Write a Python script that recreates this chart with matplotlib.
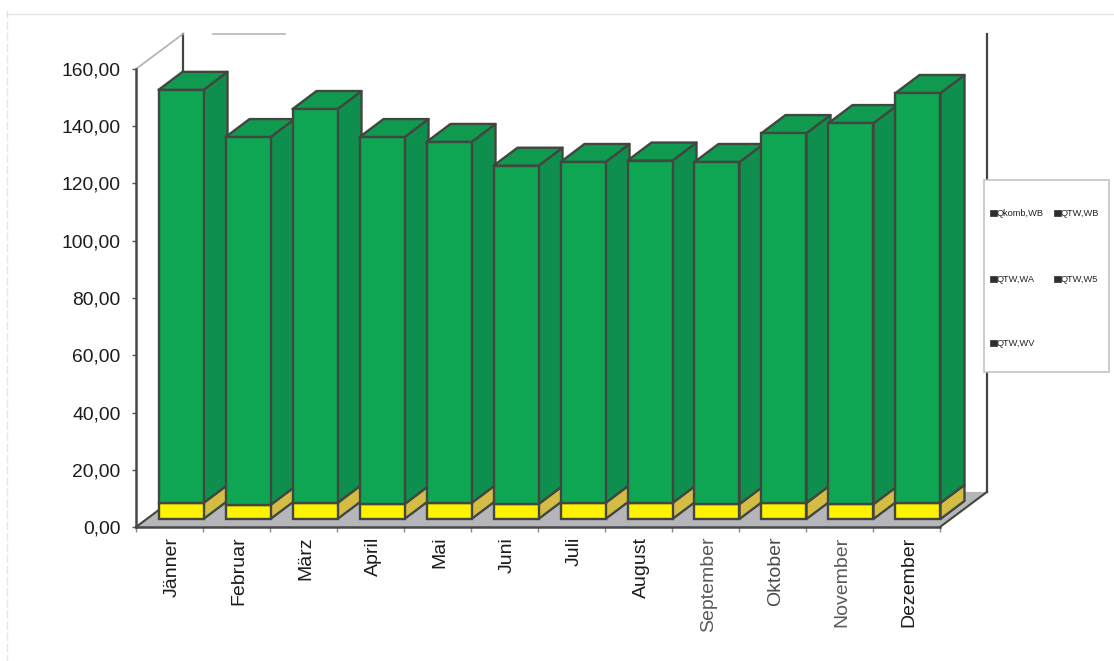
import matplotlib
matplotlib.use("Agg")
import matplotlib.pyplot as plt
from matplotlib.patches import Polygon, Rectangle

plt.rcParams['font.family'] = ['Liberation Sans', 'DejaVu Sans']

########################### DATA ##################################
months = ['Jänner', 'Februar', 'März', 'April', 'Mai', 'Juni', 'Juli',
          'August', 'September', 'Oktober', 'November', 'Dezember']
month_colors = ['#1c1c1c', '#1c1c1c', '#1c1c1c', '#1c1c1c', '#1c1c1c', '#1c1c1c', '#1c1c1c',
                '#1c1c1c', '#5a5a5a', '#4a4a4a', '#5a5a5a', '#1c1c1c']
qtw_wv = [5.6, 4.9, 5.6, 5.2, 5.6, 5.2, 5.6, 5.6, 5.2, 5.6, 5.2, 5.6]
totals = [149.9, 133.4, 143.2, 133.4, 131.7, 123.4, 124.7, 125.2, 124.7, 134.8, 138.3, 148.8]
y_ticks = [0, 20, 40, 60, 80, 100, 120, 140, 160]
legend_labels = ['Qkomb,WB', 'QTW,WB', 'QTW,WA', 'QTW,W5', 'QTW,WV']

########################### STYLE ##################################
W, H = 1114, 661
edge = '#41473f'
green_front, green_top, green_side = '#0ea553', '#0f9a50', '#0f8f4e'
yellow_front, yellow_side = '#fff200', '#d3bd45'

# Depth of the box and of a bar, in data units
depth_x, depth_y = 47 / 67, 35 / 2.856
bar_width = 45 / 67
bar_dx, bar_dy = 24 / 67, 18 / 2.856
inset_x, inset_y = 11.5 / 67, 8 / 2.856

fig = plt.figure(figsize=(W / 100, H / 100), dpi=100)

# Page decoration and legend are drawn in pixel coordinates
page = fig.add_axes([0, 0, 1, 1], zorder=0)
page.set_xlim(0, W)
page.set_ylim(H, 0)
page.axis('off')
page.plot([6, W], [14, 14], color='#e6e6e6', lw=1)
page.plot([7, 7], [10, H], color='#e6e6e6', lw=1, ls=(0, (6, 2)))
page.plot([213, 285], [34, 34], color='#b5b5b5', lw=1.2)

ax = fig.add_axes([136 / W, 1 - 527 / H, 804 / W, 458 / H], zorder=1)
ax.patch.set_alpha(0)
ax.set_xlim(0, 12)
ax.set_ylim(0, 160)


def face(pts, color, z, line=edge, lw=1.7):
    ax.add_patch(Polygon(pts, closed=True, facecolor=color, edgecolor=line,
                         linewidth=lw, joinstyle='round', clip_on=False, zorder=z))


########################### BOX ##################################
face([(0, 0), (12, 0), (12 + depth_x, depth_y), (depth_x, depth_y)], '#b6b6ba', 1, line='none', lw=0)
ax.plot([0, depth_x], [0, depth_y], color=edge, lw=1.5, clip_on=False, zorder=2)
ax.plot([12, 12 + depth_x], [0, depth_y], color=edge, lw=1.5, clip_on=False, zorder=2)
ax.plot([12 + depth_x, 12 + depth_x], [depth_y, 160 + depth_y], color=edge, lw=1.6, clip_on=False, zorder=2)
ax.plot([depth_x, depth_x], [depth_y, 160 + depth_y], color=edge, lw=1.6, clip_on=False, zorder=2)
ax.plot([0, depth_x], [160, 160 + depth_y], color='#b0b0b0', lw=1.2, clip_on=False, zorder=2)

########################### BARS ##################################
for i in range(len(months)):
    z = 3 + i
    x0 = i + (1 - bar_width) / 2 + inset_x
    x1 = x0 + bar_width
    base = inset_y
    mid = base + qtw_wv[i]
    top = base + totals[i]

    # Sides and lid of the stack
    face([(x1, base), (x1 + bar_dx, base + bar_dy), (x1 + bar_dx, mid + bar_dy), (x1, mid)], yellow_side, z)
    face([(x1, mid), (x1 + bar_dx, mid + bar_dy), (x1 + bar_dx, top + bar_dy), (x1, top)], green_side, z)
    face([(x0, top), (x1, top), (x1 + bar_dx, top + bar_dy), (x0 + bar_dx, top + bar_dy)], green_top, z)

    # Front faces
    ax.bar(x0, qtw_wv[i], width=bar_width, bottom=base, align='edge', color=yellow_front,
           edgecolor=edge, linewidth=1.7, clip_on=False, zorder=z)
    ax.bar(x0, totals[i] - qtw_wv[i], width=bar_width, bottom=mid, align='edge', color=green_front,
           edgecolor=edge, linewidth=1.7, clip_on=False, zorder=z)

########################### AXES ##################################
for side in ['top', 'right']:
    ax.spines[side].set_visible(False)
for side in ['left', 'bottom']:
    ax.spines[side].set_color('#45484a')
    ax.spines[side].set_linewidth(1.8)
    ax.spines[side].set_zorder(2)

ax.set_yticks(y_ticks)
ax.set_yticklabels([f'{v:.2f}'.replace('.', ',') for v in y_ticks], fontsize=13.9, color='#1c1c1c')
ax.tick_params(axis='y', length=3, width=1, color='#555555', pad=8)

# Ticks sit between months, labels in the middle of each slot
ax.set_xticks(range(13))
ax.set_xticklabels([])
ax.set_xticks([i + 0.54 for i in range(12)], minor=True)
ax.set_xticklabels(months, minor=True, rotation=90, fontsize=14, va='top', ha='center')
for label, c in zip(ax.get_xticklabels(minor=True), month_colors):
    label.set_color(c)
ax.tick_params(axis='x', which='major', length=3.5, width=1, color='#8a8a8a')
ax.tick_params(axis='x', which='minor', length=0, pad=7)

########################### LEGEND ##################################
page_top = fig.add_axes([0, 0, 1, 1], zorder=2)
page_top.set_xlim(0, W)
page_top.set_ylim(H, 0)
page_top.axis('off')
page_top.add_patch(Rectangle((984, 180), 125, 192, facecolor='white', edgecolor='#c4c4c4', lw=1.2))
legend_pos = [(990, 213), (1054, 213), (990, 279), (1054, 279), (990, 343)]
for label, (lx, ly) in zip(legend_labels, legend_pos):
    page_top.add_patch(Rectangle((lx, ly - 3), 6.5, 6, facecolor='#2e2e2e', edgecolor='#2e2e2e', lw=0.5))
    page_top.text(lx + 7, ly, label, fontsize=6.7, color='#222222', va='center', ha='left')

fig.savefig('out.png', dpi=100)
